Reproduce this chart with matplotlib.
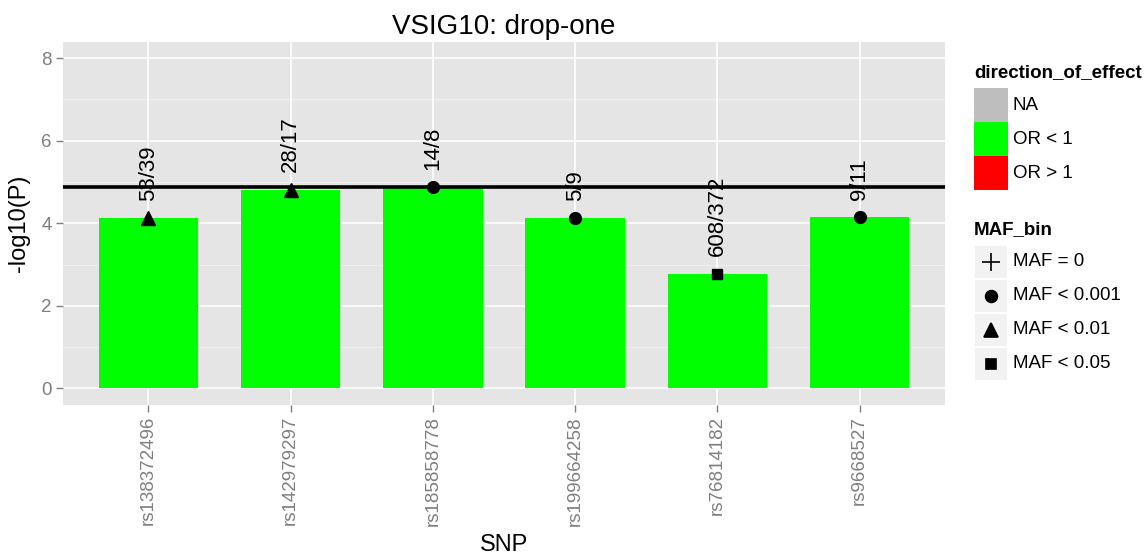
import matplotlib
matplotlib.use("Agg")
import matplotlib.pyplot as plt
from matplotlib.patches import Rectangle
from matplotlib.lines import Line2D

plt.rcParams['font.family'] = ['Liberation Sans', 'DejaVu Sans']

# ---- data ----
snps = ['rs138372496', 'rs142979297', 'rs185858778',
        'rs199664258', 'rs76814182', 'rs9668527']
neg_log10_p = [4.12, 4.81, 4.87, 4.12, 2.78, 4.15]
allele_counts = ['53/39', '28/17', '14/8', '5/9', '608/372', '9/11']
maf_bin = ['MAF < 0.01', 'MAF < 0.01', 'MAF < 0.001',
           'MAF < 0.001', 'MAF < 0.05', 'MAF < 0.001']
direction = ['OR < 1'] * 6
threshold = 4.89

direction_levels = ['NA', 'OR < 1', 'OR > 1']
direction_colors = {'NA': '#BEBEBE', 'OR < 1': '#00FF00', 'OR > 1': '#FF0000'}
maf_levels = ['MAF = 0', 'MAF < 0.001', 'MAF < 0.01', 'MAF < 0.05']
maf_markers = {'MAF = 0': ('+', 13), 'MAF < 0.001': ('o', 8.5),
               'MAF < 0.01': ('^', 9.5), 'MAF < 0.05': ('s', 7.5)}

W, H = 1148, 558
fig = plt.figure(figsize=(W / 100, H / 100), dpi=100)

# panel in pixel coordinates
px_l, px_r, px_t, px_b = 63, 945, 42, 405
ax = fig.add_axes([px_l / W, 1 - px_b / H, (px_r - px_l) / W, (px_b - px_t) / H])
ax.set_facecolor('#E5E5E5')
for s in ax.spines.values():
    s.set_visible(False)

xs = list(range(len(snps)))
ax.set_xlim(-0.6, len(snps) - 0.4)
ax.set_ylim(-0.40, 8.39)

# grid
for y in [1, 3, 5, 7]:
    ax.axhline(y, color='#F2F2F2', lw=0.6, zorder=0)
for y in [0, 2, 4, 6, 8]:
    ax.axhline(y, color='white', lw=1.2, zorder=0.5)
for x in xs:
    ax.axvline(x, color='white', lw=1.2, zorder=0.5)

# bars
ax.bar(xs, neg_log10_p, width=0.7,
       color=[direction_colors[d] for d in direction], zorder=2)

# threshold line
ax.axhline(threshold, color='black', lw=2.6, zorder=3)

# points by MAF bin
for x, v, m in zip(xs, neg_log10_p, maf_bin):
    mk, ms = maf_markers[m]
    ax.plot(x, v, marker=mk, ms=ms, color='black', mec='black', ls='none', zorder=4)

# allele count labels
for x, v, t in zip(xs, neg_log10_p, allele_counts):
    ax.text(x, v + 0.42, t, rotation=90, ha='center', va='bottom',
            fontsize=16, color='black', zorder=5)

# axes
ax.set_yticks([0, 2, 4, 6, 8])
ax.set_xticks(xs)
ax.set_xticklabels(snps, rotation=90)
ax.tick_params(axis='both', colors='#7F7F7F', labelcolor='#7F7F7F',
               length=5, width=1.0, labelsize=13.5, pad=3)
ax.set_xlabel('SNP', fontsize=17, labelpad=6)
ax.set_ylabel('-log10(P)', fontsize=17, labelpad=8)
ax.set_title('VSIG10: drop-one', fontsize=20, pad=6)

# legends drawn in pixel coordinates
lg = fig.add_axes([0, 0, 1, 1], facecolor='none')
lg.set_xlim(0, W)
lg.set_ylim(H, 0)
lg.axis('off')

kx, kw, kh = 974, 34, 34
lg.text(kx, 73, 'direction_of_effect', fontsize=13.5, fontweight='bold',
        va='center', ha='left')
y0 = 88
for i, lev in enumerate(direction_levels):
    yy = y0 + i * kh
    lg.add_patch(Rectangle((kx, yy), kw, kh, facecolor=direction_colors[lev],
                           edgecolor='none'))
    lg.text(kx + kw + 5, yy + kh / 2, lev, fontsize=13.5, va='center', ha='left')

lg.text(kx, 230, 'MAF_bin', fontsize=13.5, fontweight='bold', va='center', ha='left')
y1 = 245
for i, lev in enumerate(maf_levels):
    yy = y1 + i * kh
    lg.add_patch(Rectangle((kx + 1, yy + 1), kw - 2, kh - 2, facecolor='#F2F2F2',
                           edgecolor='none'))
    mk, ms = maf_markers[lev]
    lg.plot(kx + kw / 2, yy + kh / 2, marker=mk, ms=ms, color='black',
            mew=1.2, ls='none')
    lg.text(kx + kw + 5, yy + kh / 2, lev, fontsize=13.5, va='center', ha='left')

fig.savefig('out.png', dpi=100)
